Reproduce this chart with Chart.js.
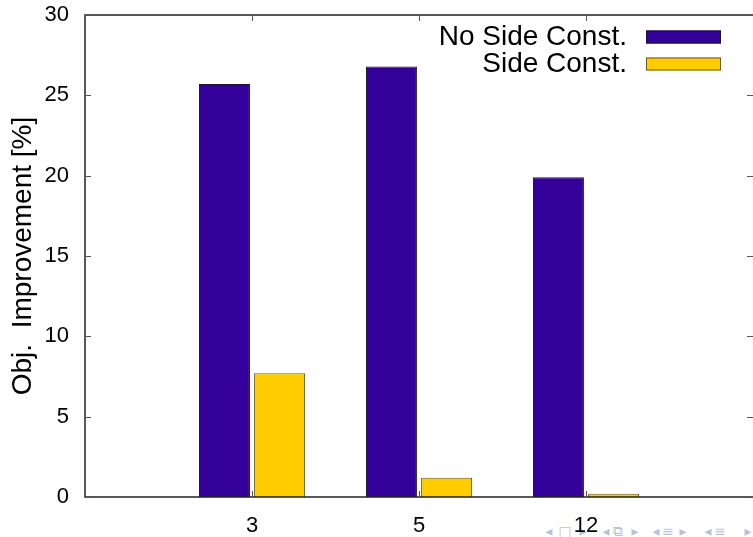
<!DOCTYPE html>
<html>
<head>
<meta charset="utf-8">
<script src="https://cdn.jsdelivr.net/npm/chart.js@4.4.0/dist/chart.umd.min.js"></script>
<style>
  html, body { margin: 0; padding: 0; background: #fff; }
  #wrap { width: 753px; height: 537px; position: relative; }
</style>
</head>
<body>
<div id="wrap"><canvas id="chart"></canvas></div>
<script>
// blank slots at both ends keep the groups at 1..3 on a 0..4 axis
const categories = ['', '3', '5', '12', ''];
const noSideConst = [null, 25.7, 26.8, 19.9, null];
const sideConst = [null, 7.7, 1.2, 0.2, null];
const yTicks = [0, 5, 10, 15, 20, 25, 30];

const FONT = 'Liberation Sans, Arial, Helvetica, sans-serif';

// gnuplot style frame with inward ticks on all four sides
const framePlugin = {
  id: 'frame',
  afterDatasetsDraw(chart) {
    const { ctx, chartArea: a, scales } = chart;
    ctx.save();
    ctx.strokeStyle = '#222';
    ctx.lineWidth = 1.5;
    ctx.strokeRect(a.left, a.top, a.right - a.left + 2, a.bottom - a.top);
    ctx.lineWidth = 1;
    ctx.strokeStyle = '#555';
    const t = 6;
    yTicks.forEach(v => {
      const y = Math.round(scales.y.getPixelForValue(v)) + 0.5;
      ctx.beginPath();
      ctx.moveTo(a.left, y); ctx.lineTo(a.left + t, y);
      ctx.moveTo(a.right, y); ctx.lineTo(a.right - t, y);
      ctx.stroke();
    });
    categories.forEach((c, i) => {
      if (!c) return;
      const x = Math.round(scales.x.getPixelForValue(i)) + 0.5;
      ctx.beginPath();
      ctx.moveTo(x, a.bottom); ctx.lineTo(x, a.bottom - t);
      ctx.moveTo(x, a.top); ctx.lineTo(x, a.top + t);
      ctx.stroke();
    });
    ctx.restore();
  }
};

// key in the top right corner: right-aligned text, swatch on the right
const keyPlugin = {
  id: 'key',
  afterDraw(chart) {
    const { ctx } = chart;
    ctx.save();
    ctx.font = '28px ' + FONT;
    ctx.textAlign = 'right';
    ctx.textBaseline = 'middle';
    chart.data.datasets.forEach((ds, i) => {
      const cy = 37 + i * 27;
      ctx.fillStyle = '#000';
      ctx.fillText(ds.label, 627, cy);
      ctx.fillStyle = ds.backgroundColor;
      ctx.fillRect(646, cy - 6.5, 75, 13);
      ctx.strokeStyle = ds.borderColor;
      ctx.lineWidth = 1;
      ctx.strokeRect(646.5, cy - 6, 74, 12);
    });
    ctx.restore();
  }
};

// slide navigation glyphs along the bottom edge
const navPlugin = {
  id: 'nav',
  beforeDraw(chart) {
    const { ctx } = chart;
    const glyphs = [['◂', 549], ['□', 565], ['▸', 583], ['◂', 606], ['⧉', 618], ['▸', 635],
                    ['◂', 656], ['≡', 668], ['▸', 683], ['◂', 708], ['≡', 720], ['▸', 748]];
    ctx.save();
    ctx.font = '14px DejaVu Sans';
    ctx.fillStyle = '#b9bfd9';
    ctx.textAlign = 'center';
    ctx.textBaseline = 'middle';
    glyphs.forEach(([g, x]) => ctx.fillText(g, x, 532));
    ctx.restore();
  }
};

new Chart(document.getElementById('chart'), {
  type: 'bar',
  data: {
    labels: categories,
    datasets: [
      {
        label: 'No Side Const.',
        data: noSideConst,
        backgroundColor: '#330099',
        borderColor: '#1a1030',
        borderWidth: 1
      },
      {
        label: 'Side Const.',
        data: sideConst,
        backgroundColor: '#ffcc00',
        borderColor: '#6a5a28',
        borderWidth: 1
      }
    ]
  },
  options: {
    responsive: true,
    maintainAspectRatio: false,
    animation: false,
    categoryPercentage: 0.66,
    barPercentage: 0.925,
    layout: { padding: { top: 15, right: 0, left: 0, bottom: 0 } },
    plugins: {
      legend: { display: false },
      tooltip: { enabled: false }
    },
    scales: {
      x: {
        offset: false,
        grid: { display: false, drawTicks: false },
        border: { display: false },
        ticks: { color: '#000', font: { family: FONT, size: 22 }, padding: 16, maxRotation: 0, autoSkip: false },
        afterFit(scale) {
          scale.height = 40;
          scale.paddingLeft = 0;
          scale.paddingRight = 0;
        }
      },
      y: {
        min: 0,
        max: 30,
        grid: { display: false, drawTicks: false },
        border: { display: false },
        afterBuildTicks(scale) { scale.ticks = yTicks.map(v => ({ value: v })); },
        ticks: { color: '#000', font: { family: FONT, size: 22 }, padding: 16 },
        title: {
          display: true,
          text: 'Obj.  Improvement [%]',
          color: '#000',
          font: { family: FONT, size: 28 },
          padding: { top: 6, bottom: 0 }
        },
        afterFit(scale) {
          scale.width = 85;
          scale.paddingTop = 0;
          scale.paddingBottom = 0;
        }
      }
    }
  },
  plugins: [navPlugin, framePlugin, keyPlugin]
});
</script>
</body>
</html>
